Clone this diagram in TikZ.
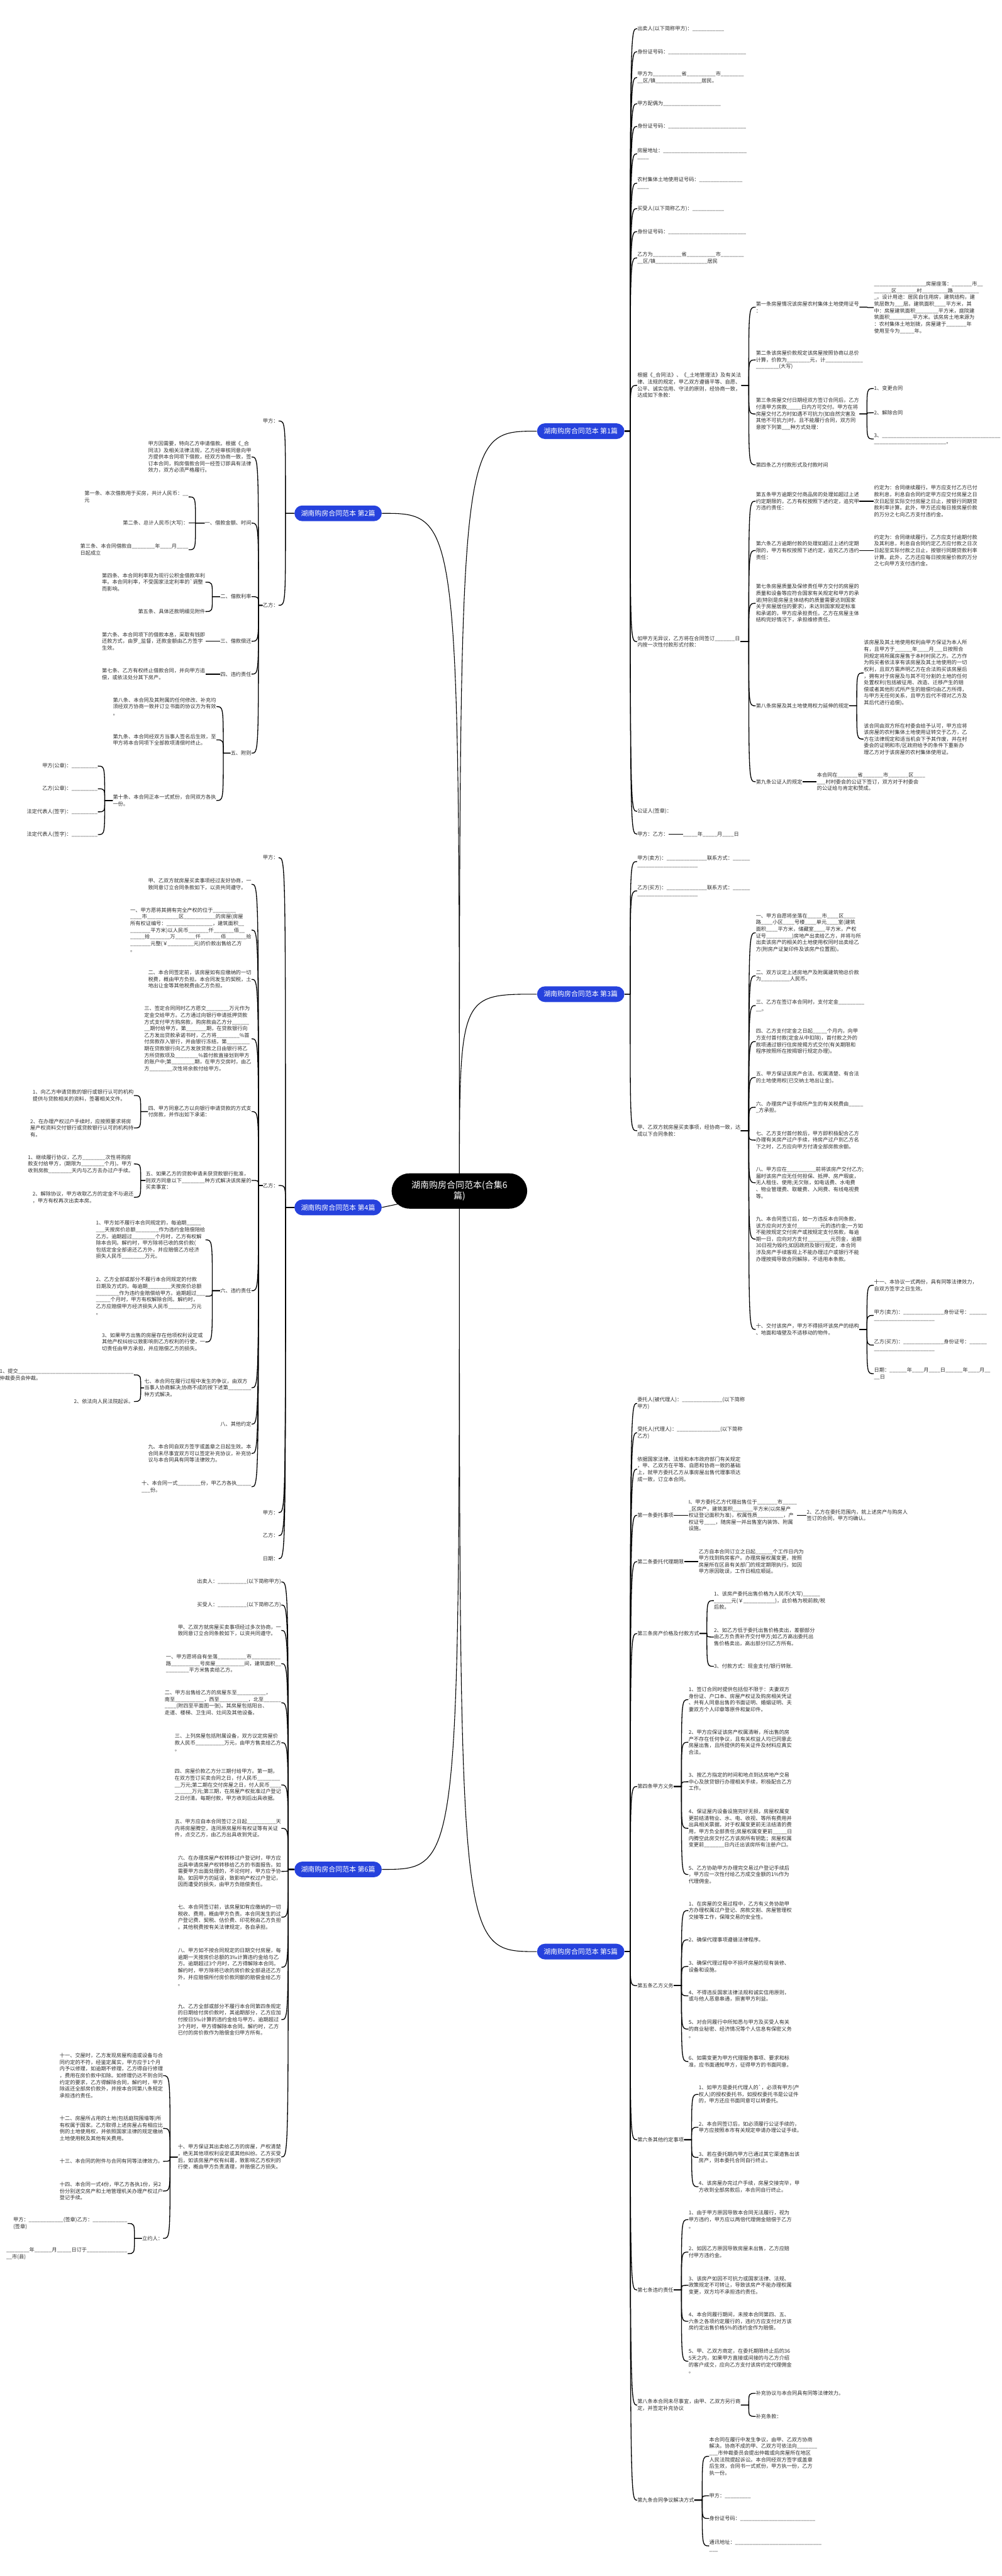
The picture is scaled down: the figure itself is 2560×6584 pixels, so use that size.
\documentclass[tikz,border=0pt]{standalone}
\usepackage{fontspec}
\setmainfont{Noto Sans CJK SC}
\usetikzlibrary{calc}
\definecolor{branchblue}{RGB}{38,66,221}
\definecolor{inkgrey}{RGB}{45,45,45}
\pgfdeclarelayer{wires}
\pgfsetlayers{wires,main}
\newcommand\leaffont{\fontsize{3.75pt}{4.85pt}\selectfont}
% wire from a parent on the right side / left side to one child
\newcommand\wireR[2]{\draw[wire] let \p1=(#1.east), \p2=(#2.west) in (\p1) -- (\x2-5pt,\y1) .. controls (\x2-5pt,\y2) .. (\p2);}
\newcommand\wireL[2]{\draw[wire] let \p1=(#1.west), \p2=(#2.east) in (\p1) -- (\x2+5pt,\y1) .. controls (\x2+5pt,\y2) .. (\p2);}
\catcode`\_=12
\begin{document}
\begin{tikzpicture}[x=0.01cm,y=-0.01cm,
  hub/.style={fill=black,text=white,rounded corners=0.45cm,minimum width=3.46cm,minimum height=0.9cm,align=center,inner sep=0pt,font=\fontsize{6.4pt}{7.8pt}\selectfont},
  branch/.style={fill=branchblue,text=white,rounded corners=0.2cm,minimum width=2.23cm,minimum height=0.4cm,inner sep=0pt,font=\fontsize{5pt}{6pt}\selectfont},
  leafR/.style={anchor=west,align=left,inner sep=0pt,text=inkgrey,font=\leaffont},
  leafL/.style={anchor=east,align=left,inner sep=0pt,text=inkgrey,font=\leaffont},
  wire/.style={line width=0.6pt},
  hubline/.style={line width=0.5pt}]
\useasboundingbox (0,0) rectangle (2560,6584);

% centre and branches
\node[hub] (c) at (1174,3044) {湖南购房合同范本(合集6\\篇)};
\node[branch] (b1) at (1484,1102) {湖南购房合同范本 第1篇};
\node[branch] (b2) at (864,1312) {湖南购房合同范本 第2篇};
\node[branch] (b3) at (1484,2541) {湖南购房合同范本 第3篇};
\node[branch] (b4) at (864,3086) {湖南购房合同范本 第4篇};
\node[branch] (b5) at (1484,4988) {湖南购房合同范本 第5篇};
\node[branch] (b6) at (864,4778) {湖南购房合同范本 第6篇};

% 第1篇
\node[leafR] (n11) at (1628,73) {出卖人(以下简称甲方)：___________};
\node[leafR] (n12) at (1628,132) {身份证号码：___________________________};
\node[leafR] (n13) at (1628,198) {甲方为__________省__________市________\\__区/镇________________居民。};
\node[leafR] (n14) at (1628,265) {甲方配偶为____________________};
\node[leafR] (n15) at (1628,323) {身份证号码：___________________________};
\node[leafR] (n16) at (1628,393) {房屋地址：_____________________________\\____};
\node[leafR] (n17) at (1628,468) {农村集体土地使用证号码：_______________\\____};
\node[leafR] (n18) at (1628,533) {买受人(以下简称乙方)：___________};
\node[leafR] (n19) at (1628,592) {身份证号码：___________________________};
\node[leafR] (n1a) at (1628,659) {乙方为__________省__________市________\\__区/镇__________________居民};
\node[leafR] (n1b) at (1628,985) {根据《_合同法》、《_土地管理法》及有关法\\律、法规的规定，甲乙双方遵循平等、自愿、\\公平、诚实信用、守法的原则，经协商一致，\\达成如下条款：};
\node[leafR] (n1c) at (1628,1640) {如甲方无异议，乙方将在合同签订_______日\\内按一次性付款形式付款：};
\node[leafR] (n1d) at (1628,2074) {公证人(签章)：};
\node[leafR] (n1e) at (1628,2132) {甲方：乙方：};
\node[leafR] (n1e1) at (1745,2132) {_____年_____月____日};

\node[leafR] (n1b1) at (1931,785) {第一条房屋情况该房屋农村集体土地使用证号\\：};
\node[leafR] (n1b1a) at (2233,786) {__________________房屋座落：_______市__\\______区_______村_________路_________\\_。设计用途：居民自住用房，建筑结构，建\\筑层数为___层。建筑面积____平方米，其\\中：房屋建筑面积________平方米，庭院建\\筑面积________平方米。该房房土地来源为\\：农村集体土地划拨，房屋建于_______年\\使用至今为_____年。};
\node[leafR] (n1b2) at (1931,920) {第二条该房屋价款规定该房屋按照协商以总价\\计算，价款为________元，计_____________\\________(大写)};
\node[leafR] (n1b3) at (1931,1058) {第三条房屋交付日期经双方签订合同后，乙方\\付清甲方房款_____日内方可交付。甲方在将\\房屋交付乙方时如遇不可抗力(如自然灾害及\\其他不可抗力)时，且不能履行合同，双方同\\意按下列第___种方式处理：};
\node[leafR] (n1b3a) at (2233,993) {1、变更合同};
\node[leafR] (n1b3b) at (2233,1055) {2、解除合同};
\node[leafR] (n1b3c) at (2233,1122) {3、_________________________________________\\_________________________。};
\node[leafR] (n1b4) at (1931,1188) {第四条乙方付款形式及付款时间};

\node[leafR] (n1c1) at (1931,1281) {第五条甲方逾期交付商品房的处理如超过上述\\约定期限的，乙方有权按照下述约定，追究甲\\方违约责任：};
\node[leafR] (n1c1a) at (2233,1281) {约定为：合同继续履行。甲方应支付乙方已付\\款利息，利息自合同约定甲方应交付房屋之日\\次日起至实际交付房屋之日止，按银行同期贷\\款利率计算。此外，甲方还应每日按房屋价款\\的万分之七向乙方支付违约金。};
\node[leafR] (n1c2) at (1931,1407) {第六条乙方逾期付款的处理如超过上述约定期\\限的，甲方有权按照下述约定，追究乙方违约\\责任：};
\node[leafR] (n1c2a) at (2233,1407) {约定为：合同继续履行。乙方应支付逾期付款\\及其利息，利息自合同约定乙方应付款之日次\\日起至实际付款之日止，按银行同期贷款利率\\计算。此外，乙方还应每日按房屋价款的万分\\之七向甲方支付违约金。};
\node[leafR] (n1c3) at (1931,1542) {第七条房屋质量及保修责任甲方交付的房屋的\\质量和设备等应符合国家有关规定和甲方的承\\诺(特别是房屋主体结构的质量需要达到国家\\关于房屋居住的要求)，未达到国家规定标准\\和承诺的，甲方应承担责任。乙方在房屋主体\\结构完好情况下，承担维修责任。};
\node[leafR] (n1c4) at (1931,1804) {第八条房屋及其土地使用权力延伸的规定};
\node[leafR] (n1c4a) at (2207,1720) {该房屋及其土地使用权利由甲方保证为本人所\\有，且甲方于______年____月___日按照合\\同规定将所属房屋售于本村村民乙方。乙方作\\为购买者依法享有该房屋及其土地使用的一切\\权利，且双方需声明乙方在合法购买该房屋后\\，拥有对于房屋及与其不可分割的土地的任何\\处置权利(包括被征用、改造、迁移产生的赔\\偿或者其他形式所产生的赔偿均由乙方所得，\\与甲方无任何关系，且甲方后代不得对乙方及\\其后代进行追偿)。};
\node[leafR] (n1c4b) at (2207,1889) {该合同由双方所在村委会给予认可，甲方应将\\该房屋的农村集体土地使用证转交于乙方，乙\\方在法律规定和适当机会下予其作废，并在村\\委会的证明和市/区政府给予的条件下重新办\\理乙方对于该房屋的农村集体使用证。};
\node[leafR] (n1c5) at (1931,1998) {第九条公证人的规定};
\node[leafR] (n1c5a) at (2087,1998) {本合同在_______省_______市_______区____\\___村村委会的公证下签订，双方对于村委会\\的公证给与肯定和赞成。};

% 第3篇
\node[leafR] (n31) at (1628,2202) {甲方(卖方)：______________联系方式：______\\_____________________};
\node[leafR] (n32) at (1628,2277) {乙方(买方)：______________联系方式：______\\_____________________};
\node[leafR] (n33) at (1628,2890) {甲、乙双方就房屋买卖事项，经协商一致，达\\成以下合同条款：};
\node[leafR] (n331) at (1931,2384) {一、甲方自愿将坐落在_____市____区____\\路____小区____号楼____单元____室(建筑\\面积____平方米，储藏室____平方米，产权\\证号_________)房地产出卖给乙方，并将与所\\出卖该房产的相关的土地使用权同时出卖给乙\\方(附房产证复印件及该房产位置图)。};
\node[leafR] (n332) at (1931,2494) {二、双方议定上述房地产及附属建筑物总价款\\为__________人民币。};
\node[leafR] (n333) at (1931,2570) {三、乙方在签订本合同时，支付定金_________\\__。};
\node[leafR] (n334) at (1931,2662) {四、乙方支付定金之日起_____个月内，向甲\\方支付首付款(定金从中扣除)，首付款之外的\\款项通过银行住房按揭方式交付(有关期限和\\程序按照所在按揭银行规定办理)。};
\node[leafR] (n335) at (1931,2754) {五、甲方保证该房产合法、权属清楚、有合法\\的土地使用权(已交纳土地出让金)。};
\node[leafR] (n336) at (1931,2830) {六、办理房产证手续所产生的有关税费由_____\\_方承担。};
\node[leafR] (n337) at (1931,2914) {七、乙方支付首付款后，甲方即积极配合乙方\\办理有关房产过户手续，待房产过户到乙方名\\下之时，乙方应向甲方付清全部房款余额。};
\node[leafR] (n338) at (1931,3023) {八、甲方应在__________前将该房产交付乙方;\\届时该房产应无任何担保、抵押、房产瑕疵，\\无人租住、使用;无欠账，如电话费、水电费\\、物业管理费、取暖费、入网费、有线电视费\\等。};
\node[leafR] (n339) at (1931,3167) {九、本合同签订后，如一方违反本合同条款，\\该方应向对方支付________元的违约金;一方如\\不能按规定交付房产或按规定支付房款，每逾\\期一日，应向对方支付________元罚金，逾期\\30日视为毁约;如因政府及银行规定，本合同\\涉及房产手续客观上不能办理过户或银行不能\\办理按揭导致合同解除，不适用本条款。};
\node[leafR] (n33a) at (1931,3398) {十、交付该房产，甲方不得损坏该房产的结构\\、地面和墙壁及不适移动的物件。};
\node[leafR] (n33a1) at (2233,3285) {十一、本协议一式两份，具有同等法律效力，\\自双方签字之日生效。};
\node[leafR] (n33a2) at (2233,3362) {甲方(卖方)：______________身份证号：______\\_____________________};
\node[leafR] (n33a3) at (2233,3438) {乙方(买方)：______________身份证号：______\\_____________________};
\node[leafR] (n33a4) at (2233,3511) {日期：______年____月____日______年____月__\\__日};

% 第5篇
\node[leafR] (n51) at (1628,3587) {委托人(被代理人)：______________(以下简称\\甲方)};
\node[leafR] (n52) at (1628,3662) {受托人(代理人)：_______________(以下简称\\乙方)};
\node[leafR] (n53) at (1628,3755) {依据国家法律、法规和本市政府部门有关规定\\，甲、乙双方在平等、自愿和协商一致的基础\\上，就甲方委托乙方从事房屋出售代理事项达\\成一致，订立本合同。};
\node[leafR] (n54) at (1628,3873) {第一条委托事项};
\node[leafR] (n54a) at (1759,3873) {I、甲方委托乙方代理出售位于_______市_____\\_区房产，建筑面积_______平方米(以房屋产\\权证登记面积为准)，权属性质_________，产\\权证号____，随房屋一并出售室内装饰、附属\\设施。};
\node[leafR] (n54b) at (2061,3873) {2、乙方在委托范围内，就上述房产与购房人\\签订的合同，甲方均确认。};
\node[leafR] (n55) at (1628,3991) {第二条委托代理期限};
\node[leafR] (n55a) at (1785,3991) {乙方自本合同订立之日起______个工作日内为\\甲方找到购房客户。办理房屋权属变更，按照\\房屋所在区县有关部门的规定期限执行。如因\\甲方原因耽误，工作日相应顺延。};
\node[leafR] (n56) at (1628,4175) {第三条房产价格及付款方式};
\node[leafR] (n56a) at (1824,4091) {1、该房产委托出售价格为人民币(大写)______\\______元(￥___________)，此价格为税前款/税\\后款。};
\node[leafR] (n56b) at (1824,4184) {2、如乙方低于委托出售价格卖出，差额部分\\由乙方负责补齐交付甲方;如乙方高出委托出\\售价格卖出，高出部分归乙方所有。};
\node[leafR] (n56c) at (1824,4259) {3、付款方式：现金支付/银行转账.};
\node[leafR] (n57) at (1628,4566) {第四条甲方义务};
\node[leafR] (n57a) at (1759,4344) {1、签订合同时提供包括但不限于：夫妻双方\\身份证、户口本、房屋产权证及购房相关凭证\\、共有人同意出售的书面证明、婚姻证明、夫\\妻双方个人印章等原件和复印件。};
\node[leafR] (n57b) at (1759,4453) {2、甲方应保证该房产权属清晰，所出售的房\\产不存在任何争议，且有关权益人均已同意此\\房屋出售，且所提供的有关证件及材料应真实\\合法。};
\node[leafR] (n57c) at (1759,4554) {3、按乙方指定的时间和地点到达房地产交易\\中心及放贷银行办理相关手续，积极配合乙方\\工作。};
\node[leafR] (n57d) at (1759,4673) {4、保证屋内设备设施完好无损，房屋权属变\\更前结清物业、水、电、收视、等所有费用并\\出具相关票据，对于权属变更前无法结清的费\\用，甲方负全部责任;房屋权属变更前_____日\\内腾空此房交付乙方该房所有钥匙；房屋权属\\变更前_______日内迁出该房所有注册户口。};
\node[leafR] (n57e) at (1759,4791) {5、乙方协助甲方办理完交易过户登记手续后\\，甲方应一次性付给乙方成交金额的1\%作为\\代理佣金。};
\node[leafR] (n58) at (1628,5075) {第五条乙方义务};
\node[leafR] (n58a) at (1759,4883) {1、在房屋的交易过程中，乙方有义务协助甲\\方办理权属过户登记、房款交割、房屋管理权\\交接等工作，保障交易的安全性。};
\node[leafR] (n58b) at (1759,4958) {2、确保代理事项遵循法律程序。};
\node[leafR] (n58c) at (1759,5026) {3、确保代理过程中不损坏房屋的现有装修、\\设备和设施。};
\node[leafR] (n58d) at (1759,5101) {4、不得违反国家法律法规和诚实信用原则，\\或与他人恶意串通，损害甲方利益。};
\node[leafR] (n58e) at (1759,5186) {5、对合同履行中所知悉与甲方及买受人有关\\的商业秘密、经济情况等个人信息有保密义务\\。};
\node[leafR] (n58f) at (1759,5269) {6、如需变更为甲方代理服务事项、要求和标\\准，应书面通知甲方，征得甲方的书面同意。};
\node[leafR] (n59) at (1628,5469) {第六条其他约定事项};
\node[leafR] (n59a) at (1785,5353) {1、如甲方是委托代理人的\textasciigrave，必须有甲方(产\\权人)的授权委托书，如授权委托书是公证件\\的，甲方还应书面同意可以转委托。};
\node[leafR] (n59b) at (1785,5437) {2、本合同签订后，如必须履行公证手续的，\\甲方应按照本市有关规定申请办理公证手续。};
\node[leafR] (n59c) at (1785,5514) {3、若在委托期内甲方已通过其它渠道售出该\\房产，则本委托合同自行终止。};
\node[leafR] (n59d) at (1785,5589) {4、该房屋办完过户手续，房屋交接完毕，甲\\方收到全部房款后，本合同自行终止。};
\node[leafR] (n5a) at (1628,5853) {第七条违约责任};
\node[leafR] (n5aa) at (1759,5673) {1、由于甲方原因导致本合同无法履行，视为\\甲方违约，甲方应以两倍代理佣金赔偿于乙方\\。};
\node[leafR] (n5ab) at (1759,5756) {2、如因乙方原因导致房屋未出售，乙方应赔\\付甲方违约金。};
\node[leafR] (n5ac) at (1759,5841) {3、该房产如因不可抗力或国家法律、法规、\\政策规定不可转让，导致该房产不能办理权属\\变更，双方均不承担违约责任。};
\node[leafR] (n5ad) at (1759,5933) {4、本合同履行期间，未按本合同第四、五、\\六条之各项约定履行的，违约方应支付对方该\\房约定出售价格5\%的违约金作为赔偿。};
\node[leafR] (n5ae) at (1759,6035) {5、甲、乙双方商定，在委托期限终止后的36\\5天之内，如果甲方直接或间接的与乙方介绍\\的客户成交，应向乙方支付该房约定代理佣金\\。};
\node[leafR] (n5b) at (1628,6147) {第八条本合同未尽事宜，由甲、乙双方另行商\\定，并签定补充协议};
\node[leafR] (n5ba) at (1931,6117) {补充协议与本合同具有同等法律效力。};
\node[leafR] (n5bb) at (1931,6176) {补充条款：};
\node[leafR] (n5c) at (1628,6390) {第九条合同争议解决方式};
\node[leafR] (n5ca) at (1812,6278) {本合同在履行中发生争议，由甲、乙双方协商\\解决。协商不成的甲、乙双方可依法向_______\\___市仲裁委员会提出仲裁或向房屋所在地区\\人民法院提起诉讼。本合同经双方签字或盖章\\后生效，合同书一式贰份，甲方执一份，乙方\\执一份。};
\node[leafR] (n5cb) at (1812,6379) {甲方：_________};
\node[leafR] (n5cc) at (1812,6437) {身份证号码：__________________________};
\node[leafR] (n5cd) at (1812,6507) {通讯地址：______________________________\\___};

% 第2篇
\node[leafL] (m21) at (712,1076) {甲方：};
\node[leafL] (m22) at (712,1547) {乙方：};
\node[leafL] (m221) at (643,1168) {甲方因需要，特向乙方申请借款。根据《_合\\同法》及相关法律法规，乙方经审核同意向甲\\方提供本合同项下借款，经双方协商一致，签\\订本合同，购房借款合同一经签订即具有法律\\效力，双方必须严格履行。};
\node[leafL] (m222) at (643,1337) {一、借款金额、时间};
\node[leafL] (m222a) at (482,1270) {第一条、本次借款用于买房，共计人民币：__\\元};
\node[leafL] (m222b) at (482,1337) {第二条、总计人民币(大写)：};
\node[leafL] (m222c) at (482,1405) {第三条、本合同借款自________年____月____\\日起成立};
\node[leafL] (m223) at (643,1525) {二、借款利率};
\node[leafL] (m223a) at (525,1488) {第四条、本合同利率现为现行公积金借款年利\\率。本合同利率，不受国家法定利率的\textasciigrave 调整\\而影响。};
\node[leafL] (m223b) at (525,1563) {第五条、具体还款明细见附件};
\node[leafL] (m224) at (643,1639) {三、借款偿还};
\node[leafL] (m224a) at (525,1639) {第六条、本合同项下的借款本息，采取有钱即\\还款方式，由罗_监督，还款金额由乙方签字\\生效。};
\node[leafL] (m225) at (643,1723) {四、违约责任};
\node[leafL] (m225a) at (525,1723) {第七条、乙方有权终止借款合同，并向甲方追\\偿，或依法处分其下房产。};
\node[leafL] (m226) at (643,1925) {五、附则};
\node[leafL] (m226a) at (553,1806) {第八条、本合同及其附属的任何修改、补充均\\须经双方协商一致并订立书面的协议方为有效\\。};
\node[leafL] (m226b) at (553,1891) {第九条、本合同经双方当事人签名后生效，至\\甲方将本合同项下全部款项清偿时终止。};
\node[leafL] (m226c) at (553,2046) {第十条、本合同正本一式贰份，合同双方各执\\一份。};
\node[leafL] (m226c1) at (250,1958) {甲方(公章)：_________};
\node[leafL] (m226c2) at (250,2016) {乙方(公章)：_________};
\node[leafL] (m226c3) at (250,2075) {法定代表人(签字)：_________};
\node[leafL] (m226c4) at (250,2133) {法定代表人(签字)：_________};

% 第4篇
\node[leafL] (m41) at (712,2192) {甲方：};
\node[leafL] (m42) at (712,3030) {乙方：};
\node[leafL] (m421) at (643,2260) {甲、乙双方就房屋买卖事项经过友好协商，一\\致同意订立合同条款如下，以资共同遵守。};
\node[leafL] (m422) at (643,2377) {一、甲方愿将其拥有完全产权的位于________\\____市___________区___________的房屋(房屋\\所有权证编号：________________，建筑面积__\\_______平方米)以人民币_______仟_______佰__\\_____拾_______万_______仟_______佰_______拾\\_______元整(￥_________元)的价款出售给乙方\\。};
\node[leafL] (m423) at (643,2503) {二、本合同签定前，该房屋如有应缴纳的一切\\税费，概由甲方负担。本合同发生的契税，土\\地出让金等其他税费由乙方负担。};
\node[leafL] (m424) at (643,2655) {三、签定合同同时乙方愿交________万元作为\\定金交给甲方。乙方通过向银行申请抵押贷款\\方式支付甲方购房款，购房款由乙方分______\\__期付给甲方。第_______期，在贷款银行向\\乙方发出贷款承诺书时，乙方将________\%首\\付房款存入银行，并由银行冻结，第________\\期在贷款银行向乙方发放贷款之日由银行将乙\\方所贷款项及________\%首付款直接划到甲方\\的账户中;第________期，在甲方交房时，由乙\\方________次性将余款付给甲方。};
\node[leafL] (m425) at (643,2841) {四、甲方同意乙方以向银行申请贷款的方式支\\付房款，并作出如下承诺：};
\node[leafL] (m425a) at (342,2800) {1、向乙方申请贷款的银行或银行认可的机构\\提供与贷款相关的资料，签署相关文件。};
\node[leafL] (m425b) at (342,2883) {2、在办理产权过户手续时，应按照要求将房\\屋产权资料交付银行或贷款银行认可的机构持\\有。};
\node[leafL] (m426) at (643,3017) {五、如果乙方的贷款申请未获贷款银行批准，\\则双方同意以下________种方式解决该房屋的\\买卖事宜：};
\node[leafL] (m426a) at (342,2975) {1、继续履行协议，乙方________次性将购房\\款支付给甲方，(期限为________个月)。甲方\\收到房款________天内与乙方去办过户手续。};
\node[leafL] (m426b) at (342,3060) {2、解除协议，甲方收取乙方的定金不与退还\\，甲方有权再次出卖本房。};
\node[leafL] (m427) at (643,3299) {六、违约责任};
\node[leafL] (m427a) at (525,3169) {1、甲方如不履行本合同规定的，每逾期_____\\___天按房价总额________作为违约金陪偿陪给\\乙方。逾期超过________个月时，乙方有权解\\除本合同。解约时，甲方除将已收的房价款(\\包括定金全部退还乙方外，并应赔偿乙方经济\\损失人民币________万元。};
\node[leafL] (m427b) at (525,3313) {2、乙方全部或部分不履行本合同规定的付款\\日期及方式的。每逾期________天按房价总额\\________作为违约金赔偿给甲方。逾期超过___\\_____个月时，甲方有权解除合同。解约时，\\乙方应赔偿甲方经济损失人民币________万元\\。};
\node[leafL] (m427c) at (525,3430) {3、如果甲方出售的房屋存在他项权利设定或\\其他产权纠纷以致影响到乙方权利的行使，一\\切责任由甲方承担，并应赔偿乙方的损失。};
\node[leafL] (m428) at (643,3547) {七、本合同在履行过程中发生的争议，由双方\\当事人协商解决;协商不成的按下述第________\\种方式解决。};
\node[leafL] (m428a) at (342,3514) {1、提交________________________________________\\仲裁委员会仲裁。};
\node[leafL] (m428b) at (342,3582) {2、依法向人民法院起诉。};
\node[leafL] (m429) at (643,3640) {八、其他约定};
\node[leafL] (m42a) at (643,3715) {九、本合同自双方签字或盖章之日起生效。本\\合同未尽事宜双方可以签定补充协议，补充协\\议与本合同具有同等法律效力。};
\node[leafL] (m42b) at (643,3800) {十、本合同一式________份，甲乙方各执_____\\___份。};
\node[leafL] (m43) at (712,3866) {甲方：};
\node[leafL] (m44) at (712,3925) {乙方：};
\node[leafL] (m45) at (712,3984) {日期：};

% 第6篇
\node[leafL] (m61) at (719,4043) {出卖人：__________(以下简称甲方)};
\node[leafL] (m62) at (719,4102) {买受人：__________(以下简称乙方)};
\node[leafL] (m63) at (719,4167) {甲、乙双方就房屋买卖事项经过多次协商，一\\致同意订立合同条款如下，以资共同遵守。};
\node[leafL] (m64) at (719,4252) {一、甲方愿将自有坐落__________市__________\\路__________号房屋__________间，建筑面积__\\________平方米售卖给乙方。};
\node[leafL] (m65) at (719,4352) {二、甲方出售给乙方的房屋东至__________，\\南至__________，西至__________，北至______\\____(附四至平面图一张)。其房屋包括阳台、\\走道、楼梯、卫生间、灶间及其他设备。};
\node[leafL] (m66) at (719,4454) {三、上列房屋包括附属设备，双方议定房屋价\\款人民币__________万元，由甲方售卖给乙方\\。};
\node[leafL] (m67) at (719,4562) {四、房屋价款乙方分三期付给甲方。第一期，\\在双方签订买卖合同之日，付人民币________\\__万元;第二期在交付房屋之日，付人民币____\\______万元;第三期，在房屋产权批准过户登记\\之日付清。每期付款，甲方收到后出具收据。};
\node[leafL] (m68) at (719,4673) {五、甲方应自本合同签订之日起__________天\\内将房屋腾空，连同原房屋所有权证等有关证\\件，点交乙方，由乙方出具收到凭证。};
\node[leafL] (m69) at (719,4783) {六、在办理房屋产权转移过户登记时，甲方应\\出具申请房屋产权转移给乙方的书面报告。如\\需要甲方出面处理的，不论何时，甲方应予协\\助。如因甲方的延误，致影响产权过户登记，\\因而遭受的损失，由甲方负赔偿责任。};
\node[leafL] (m6a) at (719,4900) {七、本合同签订前，该房屋如有应缴纳的一切\\税收、费用，概由甲方负责。本合同发生的过\\户登记费、契税、估价费、印花税由乙方负担\\。其他税费按有关法律规定，各自承担。};
\node[leafL] (m6b) at (719,5028) {八、甲方如不按合同规定的日期交付房屋，每\\逾期一天按房价总额的3‰计算违约金给与乙\\方。逾期超过3个月时，乙方得解除本合同。\\解约时，甲方除将已收的房价款全部退还乙方\\外，并应赔偿所付房价款同额的赔偿金给乙方\\。};
\node[leafL] (m6c) at (719,5162) {九、乙方全部或部分不履行本合同第四条规定\\的日期给付房价款时，其逾期部分，乙方应加\\付按日5‰计算的违约金给与甲方。逾期超过\\3个月时，甲方得解除本合同。解约时，乙方\\已付的房价款作为赔偿金归甲方所有。};
\node[leafL] (m6d) at (719,5513) {十、甲方保证其出卖给乙方的房屋，产权清楚\\，绝无其他项权利设定或其他纠纷。乙方买受\\后，如该房屋产权有纠葛，致影响乙方权利的\\行使，概由甲方负责清理，并赔偿乙方损失。};
\node[leafL] (m6d1) at (417,5305) {十一、交屋时，乙方发现房屋构造或设备与合\\同约定的不符，经鉴定属实，甲方应于1个月\\内予以修理，如逾期不修理，乙方得自行修理\\，费用在房价款中扣除。如修理仍达不到合同\\约定的要求，乙方得解除合同，解约时，甲方\\除返还全部房价款外，并按本合同第八条规定\\承担违约责任。};
\node[leafL] (m6d2) at (417,5440) {十二、房屋所占用的土地(包括庭院围墙等)所\\有权属于国家。乙方取得上述房屋占有相应比\\例的土地使用权，并依照国家法律的规定缴纳\\土地使用税及其他有关费用。};
\node[leafL] (m6d3) at (417,5524) {十三、本合同的附件与合同有同等法律效力。};
\node[leafL] (m6d4) at (417,5600) {十四、本合同一式4份，甲乙方各执1份，另2\\份分别送交房产和土地管理机关办理产权过户\\登记手续。};
\node[leafL] (m6d5) at (417,5721) {立约人：};
\node[leafL] (m6d5a) at (326,5683) {甲方：____________(签章)乙方：____________\\(签章)};
\node[leafL] (m6d5b) at (326,5760) {________年______月_____日订于______________\\__市(县)};

\begin{pgfonlayer}{wires}
\fill[white] (0,0) rectangle (2560,6584);
% centre to branches
\draw[hubline] (c.center) .. controls (1174,1102) .. (b1.west);
\draw[hubline] (c.center) .. controls (1174,2541) .. (b3.west);
\draw[hubline] (c.center) .. controls (1174,4988) .. (b5.west);
\draw[hubline] (c.center) .. controls (1174,1312) .. (b2.east);
\draw[hubline] (c.center) -- (b4.east);
\draw[hubline] (c.center) .. controls (1174,4778) .. (b6.east);
% right side
\foreach \pa/\ch in {b1/n11,b1/n12,b1/n13,b1/n14,b1/n15,b1/n16,b1/n17,b1/n18,b1/n19,b1/n1a,b1/n1b,b1/n1c,b1/n1d,b1/n1e,
  n1e/n1e1,n1b/n1b1,n1b/n1b2,n1b/n1b3,n1b/n1b4,n1b1/n1b1a,n1b3/n1b3a,n1b3/n1b3b,n1b3/n1b3c,
  n1c/n1c1,n1c/n1c2,n1c/n1c3,n1c/n1c4,n1c/n1c5,n1c1/n1c1a,n1c2/n1c2a,n1c4/n1c4a,n1c4/n1c4b,n1c5/n1c5a,
  b3/n31,b3/n32,b3/n33,n33/n331,n33/n332,n33/n333,n33/n334,n33/n335,n33/n336,n33/n337,n33/n338,n33/n339,n33/n33a,
  n33a/n33a1,n33a/n33a2,n33a/n33a3,n33a/n33a4,
  b5/n51,b5/n52,b5/n53,b5/n54,b5/n55,b5/n56,b5/n57,b5/n58,b5/n59,b5/n5a,b5/n5b,b5/n5c,
  n54/n54a,n54a/n54b,n55/n55a,n56/n56a,n56/n56b,n56/n56c,
  n57/n57a,n57/n57b,n57/n57c,n57/n57d,n57/n57e,
  n58/n58a,n58/n58b,n58/n58c,n58/n58d,n58/n58e,n58/n58f,
  n59/n59a,n59/n59b,n59/n59c,n59/n59d,
  n5a/n5aa,n5a/n5ab,n5a/n5ac,n5a/n5ad,n5a/n5ae,
  n5b/n5ba,n5b/n5bb,n5c/n5ca,n5c/n5cb,n5c/n5cc,n5c/n5cd}
  {\wireR{\pa}{\ch}}
% left side
\foreach \pa/\ch in {b2/m21,b2/m22,m22/m221,m22/m222,m22/m223,m22/m224,m22/m225,m22/m226,
  m222/m222a,m222/m222b,m222/m222c,m223/m223a,m223/m223b,m224/m224a,m225/m225a,
  m226/m226a,m226/m226b,m226/m226c,m226c/m226c1,m226c/m226c2,m226c/m226c3,m226c/m226c4,
  b4/m41,b4/m42,b4/m43,b4/m44,b4/m45,
  m42/m421,m42/m422,m42/m423,m42/m424,m42/m425,m42/m426,m42/m427,m42/m428,m42/m429,m42/m42a,m42/m42b,
  m425/m425a,m425/m425b,m426/m426a,m426/m426b,m427/m427a,m427/m427b,m427/m427c,m428/m428a,m428/m428b,
  b6/m61,b6/m62,b6/m63,b6/m64,b6/m65,b6/m66,b6/m67,b6/m68,b6/m69,b6/m6a,b6/m6b,b6/m6c,b6/m6d,
  m6d/m6d1,m6d/m6d2,m6d/m6d3,m6d/m6d4,m6d/m6d5,m6d5/m6d5a,m6d5/m6d5b}
  {\wireL{\pa}{\ch}}
\end{pgfonlayer}
\end{tikzpicture}
\end{document}
